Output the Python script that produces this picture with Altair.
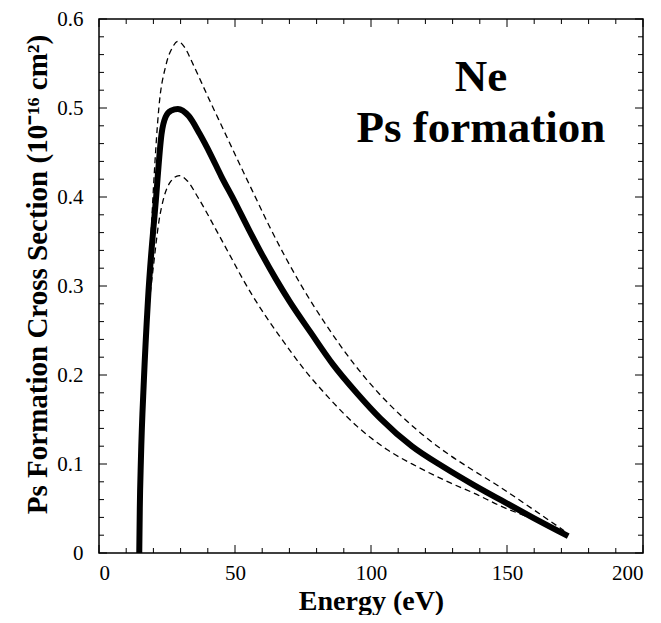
import altair as alt
import pandas as pd

# ---- data ----
solid_E = [14.8, 15.0, 15.4, 16.5, 18.0, 20.9, 23.0, 24.5, 26.5, 29.0, 33.0, 37.0, 41.0, 45.0, 49.7,
           55.0, 60.0, 65.0, 70.0, 78.0, 86.0, 95.0, 103.5, 115.0, 127.0, 138.0, 148.0, 160.0, 172.5]
solid_v = [0.0, 0.05, 0.104, 0.194, 0.284, 0.396, 0.471, 0.490, 0.497, 0.499, 0.491, 0.471, 0.448, 0.423,
           0.396, 0.364, 0.335, 0.308, 0.283, 0.247, 0.212, 0.179, 0.151, 0.120, 0.096, 0.076, 0.059,
           0.039, 0.019]

upper_E = [14.8, 16.5, 18.0, 19.0, 20.2, 22.0, 24.6, 27.0, 29.0, 31.5, 34.6, 40.0, 46.0, 52.0, 57.0,
           62.5, 68.6, 74.1, 84.0, 93.6, 103.0, 110.8, 117.0, 128.0, 135.4, 147.0, 159.6, 171.0]
upper_v = [0.0, 0.194, 0.29, 0.35, 0.42, 0.50, 0.548, 0.568, 0.575, 0.568, 0.549, 0.513, 0.474, 0.435,
           0.403, 0.368, 0.332, 0.302, 0.254, 0.213, 0.179, 0.155, 0.138, 0.112, 0.097, 0.075, 0.049,
           0.025]

lower_E = [14.8, 16.5, 18.0, 20.3, 22.0, 23.9, 26.5, 29.5, 32.5, 36.3, 43.6, 48.4, 53.2, 60.0, 66.8,
           75.0, 84.0, 95.0, 106.0, 117.0, 129.0, 138.0, 147.5, 159.6, 171.0]
lower_v = [0.0, 0.19, 0.262, 0.33, 0.372, 0.400, 0.418, 0.424, 0.418, 0.400, 0.360, 0.333, 0.306, 0.272,
           0.242, 0.208, 0.176, 0.142, 0.116, 0.097, 0.079, 0.067, 0.053, 0.038, 0.022]

x_major = [0, 50, 100, 150, 200]
x_minor = [10, 20, 30, 40, 60, 70, 80, 90, 110, 120, 130, 140, 160, 170, 180, 190]
y_major = [0.0, 0.1, 0.2, 0.3, 0.4, 0.5, 0.6]
y_minor = [0.02, 0.04, 0.06, 0.08, 0.12, 0.14, 0.16, 0.18, 0.22, 0.24, 0.26, 0.28,
           0.32, 0.34, 0.36, 0.38, 0.42, 0.44, 0.46, 0.48, 0.52, 0.54, 0.56, 0.58]

labels = ["Ne", "Ps formation"]
label_E = [140.4, 140.4]
label_v = [0.519, 0.462]

# ---- tables ----
df_solid = pd.DataFrame({"E": solid_E, "v": solid_v})
df_dash = pd.concat([
    pd.DataFrame({"E": upper_E, "v": upper_v, "series": "upper"}),
    pd.DataFrame({"E": lower_E, "v": lower_v, "series": "lower"}),
])
df_text = pd.DataFrame({"E": label_E, "v": label_v, "label": labels})

W, H = 544, 534
FONT = "Liberation Serif"
xscale = alt.Scale(domain=[0, 200], nice=False, zero=False)
yscale = alt.Scale(domain=[0, 0.6], nice=False, zero=False)

x_axis = alt.Axis(values=x_major, title="Energy (eV)", ticks=False, domain=False, grid=False,
                  labelFont=FONT, labelFontSize=21, labelPadding=9, labelColor="black",
                  titleFont=FONT, titleFontSize=28, titleFontWeight="bold", titleColor="black",
                  titleX=W / 2, titleY=56, titleBaseline="alphabetic")
y_axis = alt.Axis(values=y_major, title="Ps Formation Cross Section (10\u207b\u00b9\u2076 cm\u00b2)",
                  labelExpr="datum.value == 0 ? '0' : format(datum.value, '.1f')",
                  ticks=False, domain=False, grid=False,
                  labelFont=FONT, labelFontSize=21, labelPadding=16, labelColor="black",
                  titleFont=FONT, titleFontSize=29, titleFontWeight="bold", titleColor="black",
                  titleX=-53, titleY=255, titleBaseline="alphabetic", titleAngle=-90)


def X(field):
    return alt.X(field, scale=xscale, axis=x_axis)


def Y(field):
    return alt.Y(field, scale=yscale, axis=y_axis)


solid = alt.Chart(df_solid).mark_line(color="black", strokeWidth=6, interpolate="monotone").encode(
    x=X("E:Q"), y=Y("v:Q"),
)

dashed = alt.Chart(df_dash).mark_line(color="black", strokeWidth=1.3, strokeDash=[6, 4],
                                      interpolate="monotone").encode(
    x=X("E:Q"), y=Y("v:Q"), detail="series:N",
)

text = alt.Chart(df_text).mark_text(font=FONT, fontSize=45, fontWeight="bold", align="center",
                                    baseline="alphabetic", color="black").encode(
    x=X("E:Q"), y=Y("v:Q"), text="label:N",
)


def xticks(vals, length):
    d = pd.DataFrame({"t": vals})
    bottom = alt.Chart(d).mark_rule(color="black", strokeWidth=1).encode(
        x=X("t:Q"), y=alt.value(H), y2=alt.value(H - length))
    top = alt.Chart(d).mark_rule(color="black", strokeWidth=1).encode(
        x=X("t:Q"), y=alt.value(0), y2=alt.value(length))
    return [bottom, top]


def yticks(vals, length):
    d = pd.DataFrame({"t": vals})
    left = alt.Chart(d).mark_rule(color="black", strokeWidth=1).encode(
        y=Y("t:Q"), x=alt.value(0), x2=alt.value(length))
    right = alt.Chart(d).mark_rule(color="black", strokeWidth=1).encode(
        y=Y("t:Q"), x=alt.value(W), x2=alt.value(W - length))
    return [left, right]


layers = [solid, dashed, text] + xticks(x_major, 8) + xticks(x_minor, 5) + yticks(y_major, 8) + yticks(y_minor, 5)

chart = alt.layer(*layers).properties(
    width=W, height=H,
    autosize=alt.AutoSizeParams(type="none"),
    padding={"left": 91, "top": 11, "right": 6, "bottom": 62},
    background="white",
).configure_view(stroke="black", strokeWidth=1.5)

chart.save("out.html", embed_options={"renderer": "svg", "actions": False})
